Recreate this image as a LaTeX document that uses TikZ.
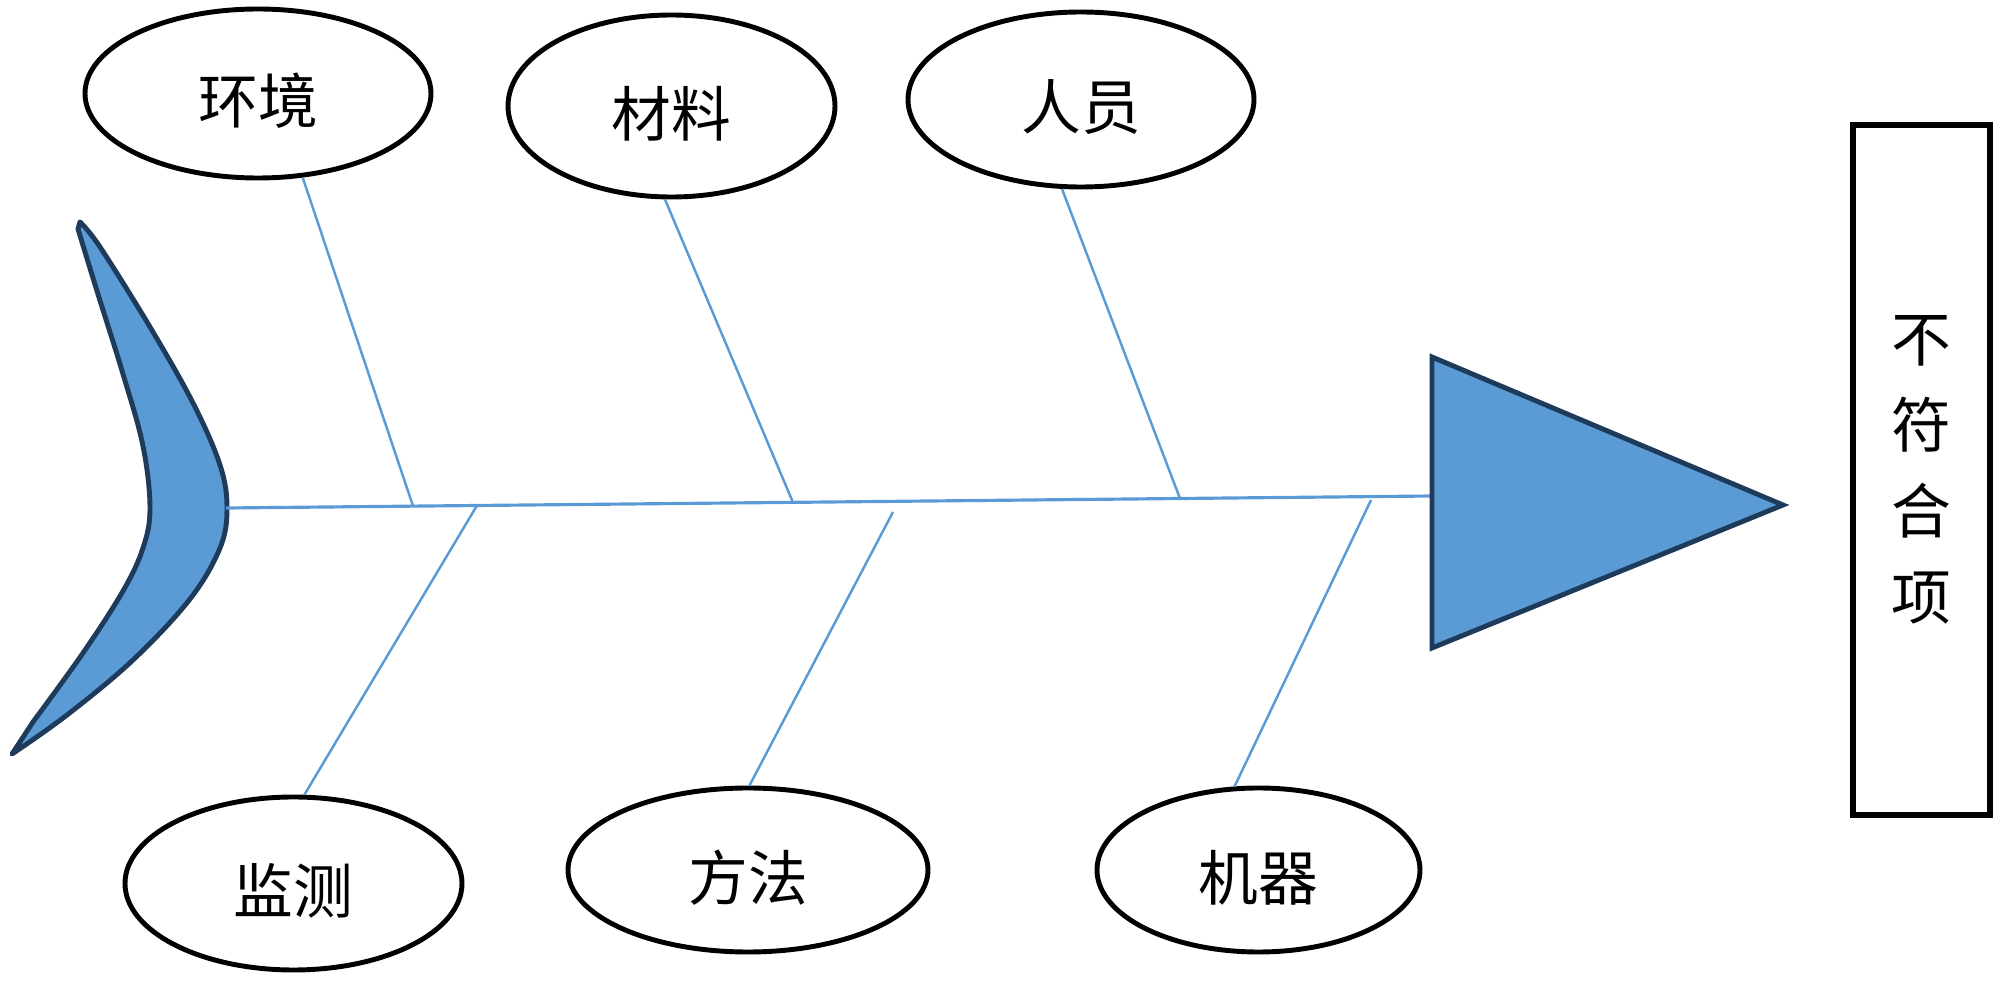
\documentclass[tikz,border=0pt]{standalone}
\usepackage{fontspec}
\usepackage{tikz}
\usetikzlibrary{shapes.geometric}
\newfontfamily\cjk{Noto Sans CJK SC}
\definecolor{fishBlue}{HTML}{5B9BD5}
\definecolor{fishEdge}{HTML}{1F3B5C}

\begin{document}
\begin{tikzpicture}[x=0.1mm, y=-0.1mm,
  causeNode/.style={ellipse, draw, line width=1.4pt, inner sep=0pt,
                    text height=19.3pt, text depth=2pt,
                    font=\cjk\fontsize{17}{20}\selectfont},
  effectBox/.style={rectangle, draw, line width=1.7pt, inner sep=0pt,
                    minimum width=13.7mm, minimum height=69mm, align=center,
                    font=\cjk\fontsize{17}{24.5}\selectfont},
  boneLine/.style={draw=fishBlue, line width=0.7pt},
  spineLine/.style={draw=fishBlue, line width=0.9pt},
  fishPart/.style={fill=fishBlue, draw=fishEdge, line width=1.4pt}
]
  \useasboundingbox (0,0) rectangle (2000,981);

  % tail and spine
  \filldraw[fishPart, line join=round]
    plot[smooth, tension=0.6] coordinates {(80,222) (100,247) (150,327)
      (193,403) (220,465) (227,508) (220,548) (190,599) (133,660) (67,715)
      (12,754)}
    -- plot[smooth, tension=0.6] coordinates {(33,722) (83,653) (123,591)
      (143,548) (150,508) (143,446) (123,374) (97,291) (78,229)}
    -- cycle;
  \coordinate (tail) at (226,508);
  \coordinate (head) at (1432,496);
  \draw[spineLine] (tail) -- (head);
  \filldraw[fishPart, line join=miter] (1432,357) -- (1783,505) -- (1432,648) -- cycle;

  \foreach \n/\x/\y/\w/\h/\t in {env/258/93.5/34.6/16.9/环境,
      mat/671.5/106/32.7/18.2/材料, ppl/1081/99.5/34.6/17.5/人员,
      mon/293.5/883.5/33.7/17.3/监测, mth/748/870/36/16.4/方法,
      mac/1258.5/870/32.3/16.4/机器}
    \node[causeNode, minimum width=\w mm, minimum height=\h mm] (\n) at (\x,\y) {\t};

  % bones
  \foreach \n/\a/\jx/\jy in {env/-62/413/506, mat/-94/793/502.5,
      ppl/-102/1180/498.5, mon/83/477/505.5, mth/89/893/512, mac/106/1371/500} {
    \coordinate (\n J) at (\jx,\jy);
    \draw[boneLine] (\n.\a) -- (\n J);
  }

  \node[effectBox] (eff) at (1921.5,470) {不\\符\\合\\项};
\end{tikzpicture}
\end{document}
